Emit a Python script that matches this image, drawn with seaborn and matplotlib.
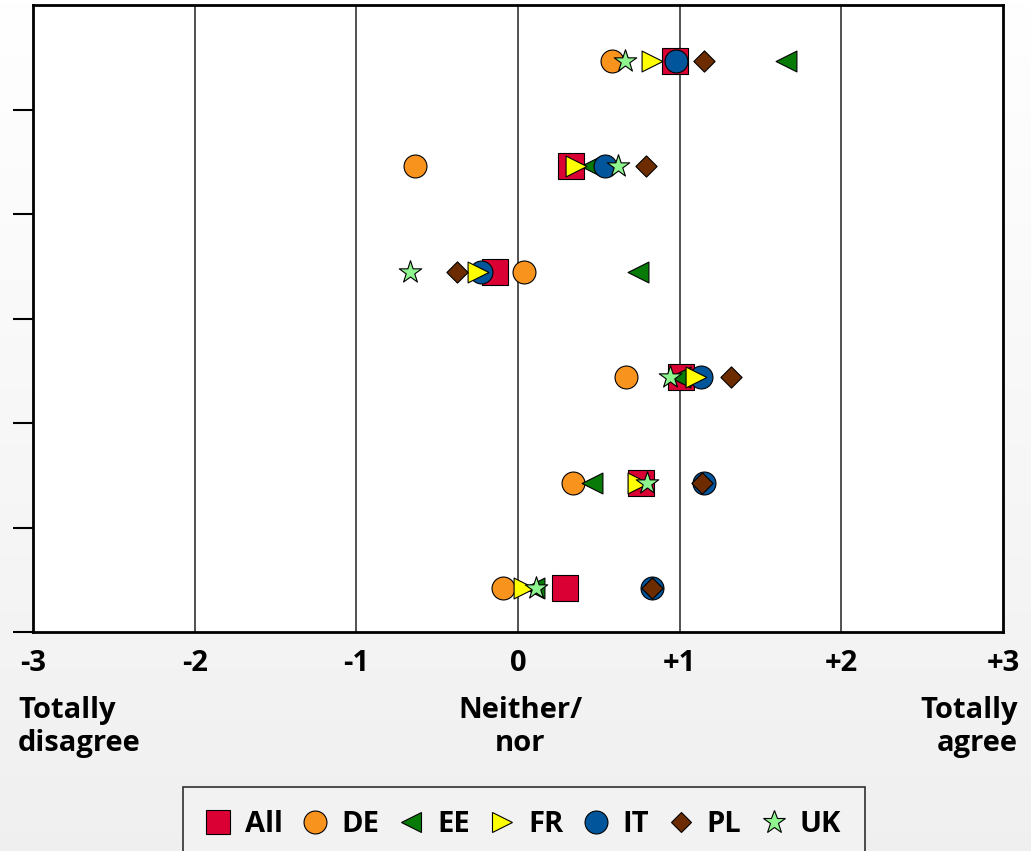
import numpy as np
import pandas as pd
import matplotlib
matplotlib.use("Agg")
import matplotlib.pyplot as plt
from matplotlib import font_manager
from matplotlib.lines import Line2D
import seaborn as sns

# ----- data -----
items = ["Item 1", "Item 2", "Item 3", "Item 4", "Item 5", "Item 6"]
countries = ["All", "DE", "EE", "FR", "IT", "PL", "UK"]

all_vals = [0.97, 0.33, -0.14, 1.01, 0.76, 0.29]
de_vals = [0.58, -0.64, 0.04, 0.67, 0.34, -0.09]
ee_vals = [1.66, 0.45, 0.74, 1.00, 0.46, 0.10]
fr_vals = [0.83, 0.36, -0.25, 1.10, 0.74, 0.04]
it_vals = [0.98, 0.54, -0.23, 1.13, 1.15, 0.83]
pl_vals = [1.15, 0.79, -0.38, 1.32, 1.14, 0.83]
uk_vals = [0.66, 0.62, -0.67, 0.94, 0.80, 0.11]

x_ticks = [-3, -2, -1, 0, 1, 2, 3]
x_labels = ["-3", "-2", "-1", "0", "+1", "+2", "+3"]

series = {"All": all_vals, "DE": de_vals, "EE": ee_vals, "FR": fr_vals,
          "IT": it_vals, "PL": pl_vals, "UK": uk_vals}
df = pd.DataFrame([(c, it, v) for c in countries for it, v in zip(items, series[c])],
                  columns=["country", "item", "score"])

colors = {"All": "#DA0034", "DE": "#F8931D", "EE": "#087A08", "FR": "#FFFF00",
          "IT": "#00559B", "PL": "#6C2C00", "UK": "#8FF58F"}
markers = {"All": "s", "DE": "o", "EE": "<", "FR": ">", "IT": "o", "PL": "D", "UK": "*"}
sizes = {"All": 19, "DE": 16.5, "EE": 15, "FR": 15, "IT": 16.5, "PL": 10.8, "UK": 17}
leg_sizes = {"All": 17, "DE": 16.5, "EE": 15, "FR": 15, "IT": 16.5, "PL": 10.5, "UK": 17}
zorders = {"All": 3, "DE": 4, "EE": 5, "IT": 6, "FR": 7, "PL": 8, "UK": 9}

# ----- fonts -----
installed = {f.name for f in font_manager.fontManager.ttflist}
family = next((f for f in ["Liberation Sans Narrow", "Open Sans", "Lato", "DejaVu Sans"]
               if f in installed), "DejaVu Sans")
sns.set_style("white")
plt.rcParams["font.family"] = [family, "DejaVu Sans"]
plt.rcParams["font.weight"] = "bold"
plt.rcParams["text.color"] = "black"
plt.rcParams["xtick.color"] = "black"
plt.rcParams["ytick.color"] = "black"

fig = plt.figure(figsize=(10.31, 8.51), dpi=100)

# light grey gradient background
bg = fig.add_axes([0, 0, 1, 1], zorder=-10)
grad = np.linspace(1.0, 0.94, 256).reshape(-1, 1)
bg.imshow(np.dstack([grad, grad, grad]), aspect="auto", extent=[0, 1, 0, 1])
bg.axis("off")

ax = fig.add_axes([33 / 1031, 1 - 632 / 851, 970 / 1031, 627 / 851])
ax.set_facecolor("white")

for c in countries:
    sub = df[df["country"] == c]
    sns.scatterplot(data=sub, x="score", y="item", ax=ax, marker=markers[c],
                    s=sizes[c] ** 2, color=colors[c], edgecolor="black",
                    linewidth=0.8, zorder=zorders[c], legend=False)

ax.set_xlim(-3, 3)
ax.set_ylim(5.416, -0.531)
ax.set_xticks(x_ticks)
ax.set_xticklabels(x_labels, fontsize=21, fontweight="bold", color="black")
ax.tick_params(axis="x", length=0, pad=12)
ax.set_yticks(np.linspace(0.465, 5.416, 6))
ax.set_yticklabels([])
ax.tick_params(axis="y", direction="out", length=14.5, width=1.5, color="black", left=True)
for x in x_ticks[1:-1]:
    ax.axvline(x, color="#333333", lw=1.2, zorder=1)
for s in ax.spines.values():
    s.set_color("black")
    s.set_linewidth(2)
ax.set_xlabel("")
ax.set_ylabel("")

# scale anchors
for xpos, txt, ha in [(18, "Totally\ndisagree", "left"), (520, "Neither/\nnor", "center"),
                      (1018, "Totally\nagree", "right")]:
    fig.text(xpos / 1031, 1 - 727 / 851, txt, ha=ha, va="center", multialignment=ha,
             fontsize=21, fontweight="bold", linespacing=1.2, color="black")

# legend
handles = [Line2D([], [], linestyle="none", marker=markers[c], markersize=leg_sizes[c],
                  markerfacecolor=colors[c], markeredgecolor="black", markeredgewidth=0.8)
           for c in countries]
leg = fig.legend(handles, countries, loc="upper center", bbox_to_anchor=(524 / 1031, 1 - 787 / 851),
                 ncol=7, frameon=True, fancybox=False, prop={"weight": "bold", "size": 21},
                 handlelength=0.8, handletextpad=0.5, columnspacing=0.7,
                 borderpad=0.8, borderaxespad=0, edgecolor="#303030", facecolor="#f2f2f2",
                 framealpha=1, labelcolor="black")
leg.get_frame().set_linewidth(1.2)

fig.savefig("out.png", dpi=100)
